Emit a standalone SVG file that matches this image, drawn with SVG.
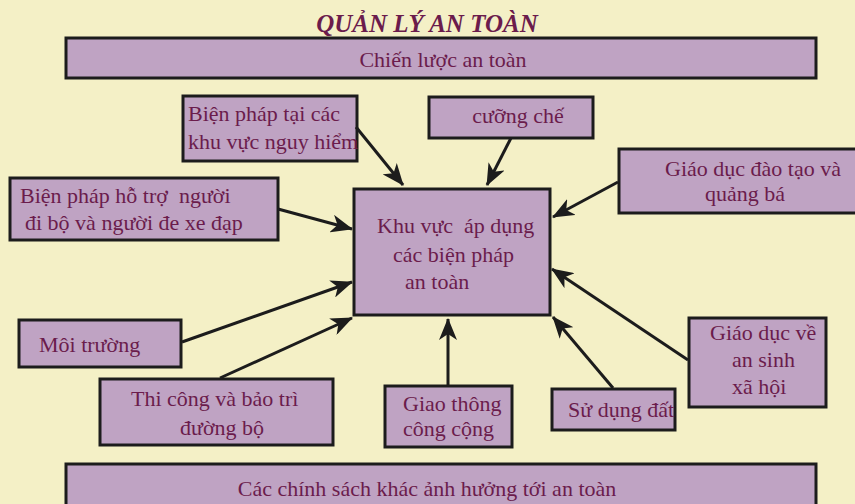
<svg xmlns="http://www.w3.org/2000/svg" width="855" height="504" viewBox="0 0 855 504">
<defs>
<style>
.bg{fill:#F4F0C6}
.box{fill:#BFA3C3;stroke:#1c1c1c;stroke-width:3}
.t{font-family:"Liberation Serif","Times New Roman",serif;font-size:22px;fill:#6B1C4C}
.title{font-family:"Liberation Serif","Times New Roman",serif;font-size:25px;font-weight:bold;font-style:italic;fill:#6B1C4C}
.c{text-anchor:middle}
.con line{stroke:#1c1c1c;stroke-width:3;marker-end:url(#ah)}
</style>
<marker id="ah" viewBox="0 0 22 18" refX="21" refY="9" markerWidth="22" markerHeight="18" markerUnits="userSpaceOnUse" orient="auto">
<path d="M0,0 L22,9 L0,18 L6,9 z" fill="#1c1c1c"/>
</marker>
</defs>
<rect class="bg" x="0" y="0" width="855" height="504"/>
<text class="title c" x="427" y="32">QUẢN LÝ AN TOÀN</text>
<g id="strategy">
<rect class="box" x="66" y="38" width="750" height="40"/>
<text class="t c" x="443" y="67">Chiến lược an toàn</text>
</g>
<g id="other-policies">
<rect class="box" x="66" y="464" width="750" height="60"/>
<text class="t c" x="427" y="496">Các chính sách khác ảnh hưởng tới an toàn</text>
</g>
<g id="center">
<rect class="box" x="354" y="189" width="196" height="126"/>
<text class="t" x="377" y="233" xml:space="preserve">Khu vực  áp dụng</text>
<text class="t" x="393" y="262">các biện pháp</text>
<text class="t" x="405" y="289">an toàn</text>
</g>
<g id="danger-zones">
<rect class="box" x="183" y="96" width="174" height="65"/>
<text class="t" x="188" y="121">Biện pháp tại các</text>
<text class="t" x="188" y="149">khu vực nguy hiểm</text>
</g>
<g id="pedestrians">
<rect class="box" x="10" y="178" width="268" height="62"/>
<text class="t" x="20" y="203" xml:space="preserve">Biện pháp hỗ trợ  người</text>
<text class="t" x="25" y="230">đi bộ và người đe xe đạp</text>
</g>
<g id="enforcement">
<rect class="box" x="429" y="97" width="164" height="41"/>
<text class="t c" x="518" y="123">cưỡng chế</text>
</g>
<g id="education">
<rect class="box" x="619" y="149" width="241" height="64"/>
<text class="t" x="665" y="176">Giáo dục đào tạo và</text>
<text class="t" x="705" y="201">quảng bá</text>
</g>
<g id="environment">
<rect class="box" x="19" y="320" width="162" height="47"/>
<text class="t" x="39" y="352">Môi trường</text>
</g>
<g id="construction">
<rect class="box" x="100" y="379" width="233" height="66"/>
<text class="t" x="131" y="406">Thi công và bảo trì</text>
<text class="t" x="180" y="435">đường bộ</text>
</g>
<g id="public-transport">
<rect class="box" x="385" y="386" width="127" height="61"/>
<text class="t" x="403" y="411">Giao thông</text>
<text class="t" x="403" y="436">công cộng</text>
</g>
<g id="land-use">
<rect class="box" x="552" y="389" width="123" height="41"/>
<text class="t" x="568" y="417">Sử dụng đất</text>
</g>
<g id="social-education">
<rect class="box" x="689" y="318" width="137" height="89"/>
<text class="t" x="710" y="340">Giáo dục về</text>
<text class="t" x="732" y="367">an sinh</text>
<text class="t" x="732" y="394">xã hội</text>
</g>
<g id="connectors" class="con">
<line x1="356" y1="127" x2="403" y2="185"/>
<line x1="278" y1="209" x2="352" y2="229"/>
<line x1="511" y1="138" x2="487" y2="185"/>
<line x1="618" y1="182" x2="553" y2="217"/>
<line x1="182" y1="342" x2="352" y2="282"/>
<line x1="220" y1="378" x2="352" y2="318"/>
<line x1="448" y1="386" x2="448" y2="319"/>
<line x1="613" y1="388" x2="553" y2="317"/>
<line x1="688" y1="360" x2="552" y2="269"/>
</g>
</svg>
